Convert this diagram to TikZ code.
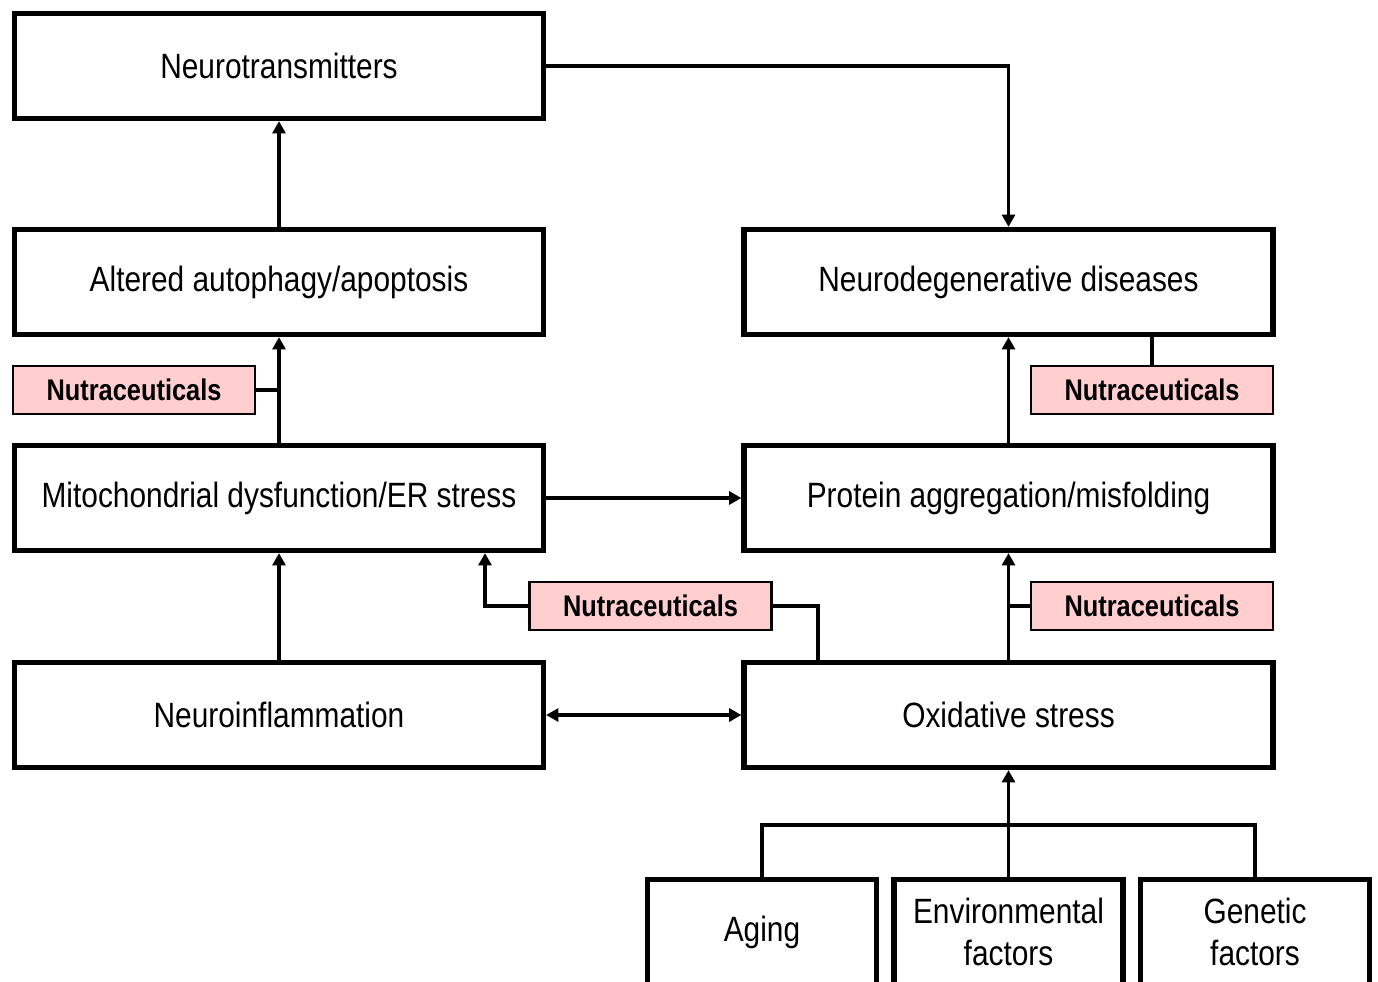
\documentclass[tikz,border=0pt]{standalone}
\usepackage{fontspec}
\setmainfont[FakeStretch=0.85]{Liberation Sans}
\usetikzlibrary{arrows.meta}
\definecolor{nutpink}{RGB}{255,206,206}
\begin{document}
\begin{tikzpicture}[x=0.02cm,y=-0.02cm,
  mainbox/.style={draw, line width=3pt, minimum width=10.58cm, minimum height=2.1cm, inner sep=0pt, font=\fontsize{20}{24}\selectfont, align=center},
  smallbox/.style={draw, line width=3pt, minimum width=4.58cm, minimum height=2.1cm, inner sep=0pt, font=\fontsize{20}{24}\selectfont, align=center},
  nutbox/.style={draw, line width=1.2pt, fill=nutpink, minimum width=4.84cm, minimum height=0.96cm, inner sep=0pt, font=\fontsize{17}{20}\selectfont\bfseries},
  conn/.style={line width=1.9pt},
  arr/.style={conn, -{Triangle[length=7pt,width=7.4pt]}},
  darr/.style={conn, {Triangle[length=7pt,width=7.4pt]}-{Triangle[length=7pt,width=7.4pt]}}
]
\useasboundingbox (0,0) rectangle (1378,982);
\clip (0,0) rectangle (1378,982);
\node[mainbox] (nt) at (279,66) {Neurotransmitters};
\node[mainbox] (alt) at (279,282) {Altered autophagy/apoptosis};
\node[mainbox] (mito) at (279,498) {Mitochondrial dysfunction/ER stress};
\node[mainbox] (ni) at (279,715) {Neuroinflammation};
\node[mainbox] (nd) at (1008.5,282) {Neurodegenerative diseases};
\node[mainbox] (pa) at (1008.5,498) {Protein aggregation/misfolding};
\node[mainbox] (ox) at (1008.5,715) {Oxidative stress};
\node[smallbox] (aging) at (762,932) {Aging};
\node[smallbox] (env) at (1008.5,932) {Environmental\\factors};
\node[smallbox] (gen) at (1255,932) {Genetic\\factors};
\node[nutbox] (nutL) at (134,390) {Nutraceuticals};
\node[nutbox] (nutR1) at (1152,390) {Nutraceuticals};
\node[nutbox] (nutM) at (650.5,606) {Nutraceuticals};
\node[nutbox] (nutR2) at (1152,606) {Nutraceuticals};
\coordinate (oxup) at (818,606);
\coordinate (mitolow) at (485,606);
\coordinate (busy) at (0,825);
% connectors
\draw[arr] (alt.north) -- (nt.south);
\draw[arr] (nt.east) -| (nd.north);
\draw[arr] (mito.north) -- (alt.south);
\draw[conn] (nutL.east) -- (nutL.east -| mito.north);
\draw[arr] (pa.north) -- (nd.south);
\draw[conn] (nutR1.north) -- (nutR1.north |- nd.south);
\draw[arr] (mito.east) -- (pa.west);
\draw[arr] (ni.north) -- (mito.south);
\draw[darr] (ni.east) -- (ox.west);
\draw[conn] (oxup |- ox.north) |- (nutM.east);
\draw[arr] (nutM.west) -| (mitolow |- mito.south);
\draw[arr] (ox.north) -- (pa.south);
\draw[conn] (nutR2.west) -- (nutR2.west -| ox.north);
\draw[arr] (env.north) -- (ox.south);
\draw[conn] (aging.north) |- (busy -| env.north) -| (gen.north);
\end{tikzpicture}
\end{document}
